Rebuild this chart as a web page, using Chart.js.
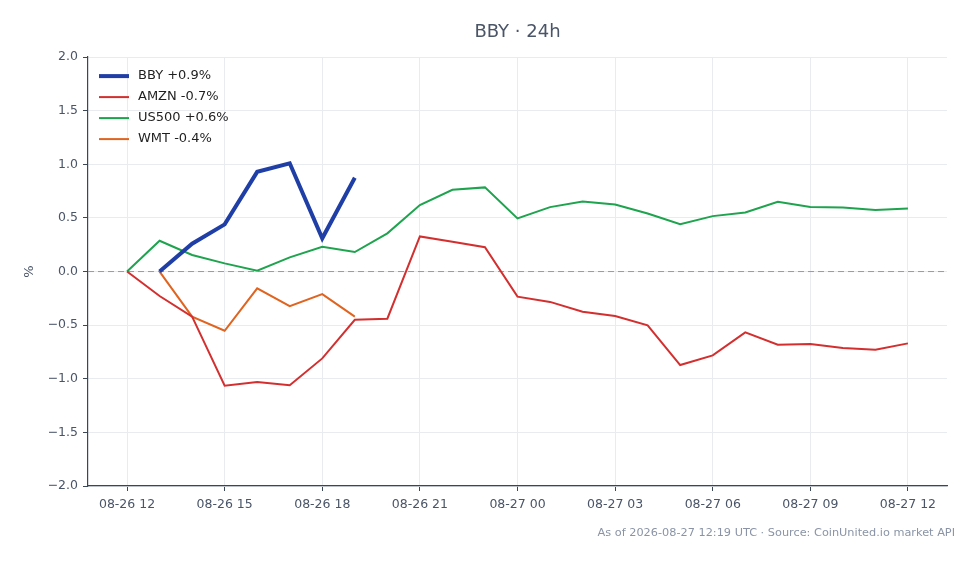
<!DOCTYPE html>
<html>
<head>
<meta charset="utf-8">
<script src="https://cdn.jsdelivr.net/npm/chart.js@4/dist/chart.umd.min.js"></script>
<style>
  html, body { margin: 0; padding: 0; background: #ffffff; }
  #wrap { width: 979px; height: 564px; }
</style>
</head>
<body>
<div id="wrap"><canvas id="c" width="979" height="564"></canvas></div>
<script>
// ---- data ----
const categories = ['08-26 12','08-26 13','08-26 14','08-26 15','08-26 16','08-26 17','08-26 18','08-26 19','08-26 20','08-26 21','08-26 22','08-26 23',
  '08-27 00','08-27 01','08-27 02','08-27 03','08-27 04','08-27 05','08-27 06','08-27 07','08-27 08','08-27 09','08-27 10','08-27 11','08-27 12'];
const xTickIndexes = [0, 3, 6, 9, 12, 15, 18, 21, 24];
const yTickValues = [-2.0, -1.5, -1.0, -0.5, 0.0, 0.5, 1.0, 1.5, 2.0];

const bbyValues   = [null, 0.00, 0.26, 0.44, 0.93, 1.01, 0.31, 0.875];
const amznValues  = [0.00, -0.228, -0.421, -1.065, -1.03, -1.06, -0.81, -0.45, -0.44, 0.327, 0.277, 0.227,
  -0.234, -0.283, -0.374, -0.414, -0.502, -0.872, -0.782, -0.567, -0.682, -0.676, -0.713, -0.729, -0.67];
const us500Values = [0.00, 0.287, 0.154, 0.076, 0.008, 0.132, 0.231, 0.182, 0.356, 0.62, 0.763, 0.785,
  0.495, 0.601, 0.654, 0.626, 0.542, 0.442, 0.517, 0.551, 0.651, 0.601, 0.598, 0.573, 0.589];
const wmtValues   = [null, 0.00, -0.421, -0.552, -0.157, -0.322, -0.21, -0.421];

const seriesNames = ['BBY +0.9%', 'AMZN -0.7%', 'US500 +0.6%', 'WMT -0.4%'];

const titleText = 'BBY · 24h';
const footerText = 'As of 2026-08-27 12:19 UTC · Source: CoinUnited.io market API';

// ---- helpers ----
function toPoints(arr) {
  const out = [];
  arr.forEach((v, i) => { if (v !== null && v !== undefined) out.push({ x: i, y: v }); });
  return out;
}

const textColor = '#4a5568';
const axisColor = '#3b4658';
const gridColor = '#e8ebf0';
const FONT = "'DejaVu Sans', sans-serif";

const extras = {
  id: 'extras',
  beforeDatasetsDraw(chart) {
    const { ctx, chartArea, scales } = chart;
    const y0 = scales.y.getPixelForValue(0);
    ctx.save();
    ctx.strokeStyle = '#8e9ab5';
    ctx.lineWidth = 1;
    ctx.setLineDash([6, 4]);
    ctx.beginPath();
    ctx.moveTo(chartArea.left, y0);
    ctx.lineTo(chartArea.right, y0);
    ctx.stroke();
    ctx.restore();
  },
  afterDraw(chart) {
    const { ctx, chartArea } = chart;
    ctx.save();
    // legend inside plot area
    ctx.font = "13px " + FONT;
    ctx.textAlign = 'left';
    ctx.textBaseline = 'middle';
    ctx.setLineDash([]);
    chart.data.datasets.forEach((ds, i) => {
      const y = chartArea.top + 19 + i * 21;
      const x0 = chartArea.left + 11;
      ctx.strokeStyle = ds.borderColor;
      ctx.lineWidth = ds.borderWidth;
      ctx.beginPath();
      ctx.moveTo(x0, y);
      ctx.lineTo(x0 + 30, y);
      ctx.stroke();
      ctx.fillStyle = '#1f1f1f';
      ctx.fillText(ds.label, x0 + 39, y);
    });
    // footer
    ctx.font = "11.3px " + FONT;
    ctx.fillStyle = '#8a94a6';
    ctx.textAlign = 'right';
    ctx.fillText(footerText, 955, 533);
    ctx.restore();
  }
};

new Chart(document.getElementById('c'), {
  type: 'line',
  data: {
    datasets: [
      { label: seriesNames[0], data: toPoints(bbyValues), borderColor: '#1f3fa6', backgroundColor: '#1f3fa6', borderWidth: 4 },
      { label: seriesNames[1], data: toPoints(amznValues), borderColor: '#d32f2f', backgroundColor: '#d32f2f', borderWidth: 2 },
      { label: seriesNames[2], data: toPoints(us500Values), borderColor: '#1ea34e', backgroundColor: '#1ea34e', borderWidth: 2 },
      { label: seriesNames[3], data: toPoints(wmtValues), borderColor: '#e0641f', backgroundColor: '#e0641f', borderWidth: 2 }
    ]
  },
  options: {
    responsive: false,
    animation: false,
    devicePixelRatio: 1,
    layout: { padding: { left: 0, right: 32, top: 0, bottom: 48 } },
    elements: { line: { tension: 0 }, point: { radius: 0, hoverRadius: 0 } },
    plugins: {
      tooltip: { enabled: false },
      legend: { display: false },
      title: {
        display: true,
        text: titleText,
        fullSize: false,
        color: textColor,
        font: { family: FONT, size: 18, weight: 'normal' },
        padding: { top: 22, bottom: 13.5 }
      }
    },
    scales: {
      x: {
        type: 'linear',
        min: -1.2,
        max: 25.2,
        afterBuildTicks(scale) { scale.ticks = xTickIndexes.map(v => ({ value: v })); },
        afterFit(scale) { scale.height = 30; },
        ticks: {
          color: textColor,
          font: { family: FONT, size: 12.5 },
          padding: 6,
          maxRotation: 0,
          autoSkip: false,
          callback: (v) => categories[v]
        },
        grid: { color: gridColor, tickColor: axisColor, tickLength: 5, drawTicks: true },
        border: { display: true, color: axisColor, width: 1.2 }
      },
      y: {
        type: 'linear',
        min: -2,
        max: 2,
        afterBuildTicks(scale) { scale.ticks = yTickValues.map(v => ({ value: v })); },
        afterFit(scale) { scale.width = 88; },
        ticks: {
          color: textColor,
          font: { family: FONT, size: 12.5 },
          padding: 5,
          callback: (v) => v.toFixed(1).replace('-', '\u2212')
        },
        title: {
          display: true,
          text: '%',
          color: textColor,
          font: { family: FONT, size: 13 },
          padding: { top: 22, bottom: 0 }
        },
        grid: { color: gridColor, tickColor: axisColor, tickLength: 5, drawTicks: true },
        border: { display: true, color: axisColor, width: 1.2 }
      }
    }
  },
  plugins: [extras]
});
</script>
</body>
</html>
